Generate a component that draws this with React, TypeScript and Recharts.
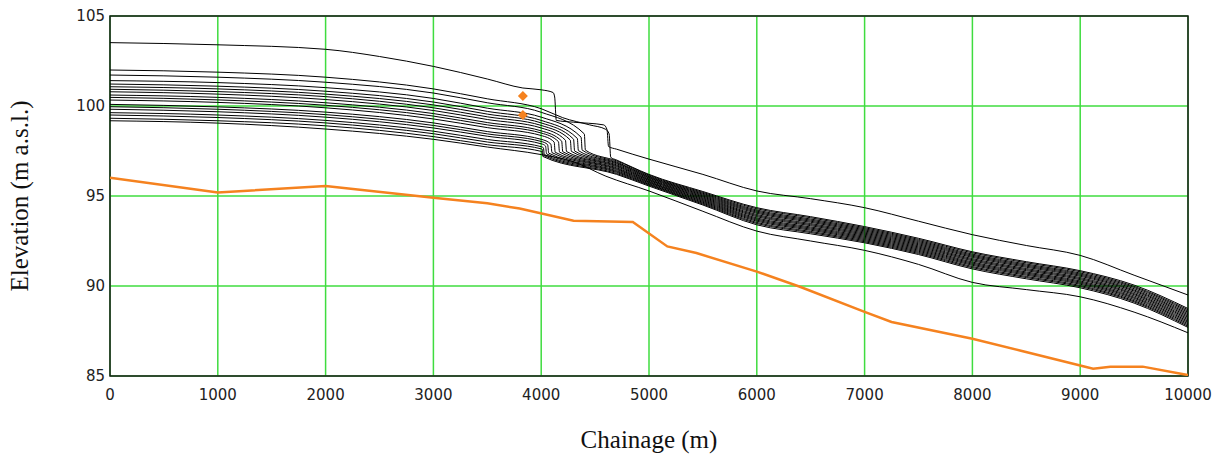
import React from "react";
import {
  ComposedChart,
  Line,
  Scatter,
  XAxis,
  YAxis,
  CartesianGrid,
  ReferenceArea,
  Label,
} from "recharts";

type Pt = [number, number];

const xTicks = [0, 1000, 2000, 3000, 4000, 5000, 6000, 7000, 8000, 9000, 10000];
const yTicks = [85, 90, 95, 100, 105];

// water surface profiles, [chainage, elevation]
const profileTop: Pt[] = [
  [0, 103.52], [1000, 103.4], [2000, 103.15], [2500, 102.75], [3000, 102.2], [3500, 101.5],
  [3830, 101.0], [4000, 100.9], [4110, 100.75], [4125, 100.5], [4140, 99.2], [4300, 99.1],
  [4580, 98.95], [4610, 98.7], [4625, 97.75], [4700, 97.6], [5000, 97.05], [5500, 96.2],
  [6000, 95.28], [6500, 94.85], [7000, 94.35], [7500, 93.6], [8000, 92.85], [8500, 92.25],
  [9000, 91.7], [9500, 90.6], [10000, 89.5],
];
const profile01: Pt[] = [
  [0, 102.0], [1000, 101.88], [2000, 101.6], [3000, 100.95], [3500, 100.4], [4000, 99.85],
  [4200, 99.35], [4450, 98.95], [4600, 98.7], [4630, 98.45], [4645, 97.15], [4700, 97.0],
  [5000, 96.2], [5500, 95.25], [6000, 94.35], [6500, 93.85], [7000, 93.3], [7500, 92.65],
  [8000, 91.9], [8500, 91.35], [9000, 90.85], [9500, 90.05], [10000, 88.75],
];
const profile02: Pt[] = [
  [0, 101.72], [1000, 101.6], [2000, 101.32], [3000, 100.72], [3500, 100.18], [4000, 99.65],
  [4400, 98.45], [4410, 97.55], [4700, 96.95], [5000, 96.16], [5500, 95.2], [6000, 94.29],
  [6500, 93.79], [7000, 93.24], [7500, 92.59], [8000, 91.84], [8500, 91.29], [9000, 90.79],
  [9500, 89.98], [10000, 88.68],
];
const profile03: Pt[] = [
  [0, 101.41], [1000, 101.3], [2000, 101.02], [3000, 100.42], [3500, 99.88], [4000, 99.38],
  [4370, 98.27], [4380, 97.55], [4700, 96.89], [5000, 96.11], [5500, 95.15], [6000, 94.22],
  [6500, 93.72], [7000, 93.18], [7500, 92.53], [8000, 91.77], [8500, 91.22], [9000, 90.72],
  [9500, 89.92], [10000, 88.61],
];
const profile04: Pt[] = [
  [0, 101.22], [1000, 101.1], [2000, 100.82], [3000, 100.22], [3500, 99.7], [4000, 99.2],
  [4335, 98.2], [4345, 97.52], [4700, 96.84], [5000, 96.07], [5500, 95.1], [6000, 94.16],
  [6500, 93.66], [7000, 93.12], [7500, 92.47], [8000, 91.71], [8500, 91.16], [9000, 90.66],
  [9500, 89.85], [10000, 88.54],
];
const profile05: Pt[] = [
  [0, 101.07], [1000, 100.95], [2000, 100.66], [3000, 100.06], [3500, 99.55], [4000, 99.06],
  [4300, 98.16], [4310, 97.5], [4700, 96.79], [5000, 96.03], [5500, 95.05], [6000, 94.1],
  [6500, 93.6], [7000, 93.06], [7500, 92.41], [8000, 91.65], [8500, 91.1], [9000, 90.6],
  [9500, 89.78], [10000, 88.47],
];
const profile06: Pt[] = [
  [0, 100.93], [1000, 100.8], [2000, 100.52], [3000, 99.9], [3500, 99.4], [4000, 98.92],
  [4270, 98.11], [4280, 97.48], [4700, 96.73], [5000, 95.99], [5500, 95.0], [6000, 94.04],
  [6500, 93.54], [7000, 93.0], [7500, 92.35], [8000, 91.59], [8500, 91.04], [9000, 90.54],
  [9500, 89.72], [10000, 88.4],
];
const profile07: Pt[] = [
  [0, 100.79], [1000, 100.66], [2000, 100.36], [3000, 99.75], [3500, 99.25], [4000, 98.78],
  [4225, 98.1], [4235, 97.47], [4700, 96.68], [5000, 95.94], [5500, 94.95], [6000, 93.97],
  [6500, 93.47], [7000, 92.94], [7500, 92.29], [8000, 91.52], [8500, 90.97], [9000, 90.47],
  [9500, 89.65], [10000, 88.33],
];
const profile08: Pt[] = [
  [0, 100.61], [1000, 100.48], [2000, 100.18], [3000, 99.58], [3500, 99.08], [4000, 98.62],
  [4190, 98.05], [4200, 97.46], [4700, 96.63], [5000, 95.9], [5500, 94.9], [6000, 93.91],
  [6500, 93.41], [7000, 92.88], [7500, 92.23], [8000, 91.46], [8500, 90.91], [9000, 90.41],
  [9500, 89.58], [10000, 88.26],
];
const profile09: Pt[] = [
  [0, 100.48], [1000, 100.34], [2000, 100.04], [3000, 99.44], [3500, 98.95], [4000, 98.5],
  [4160, 98.02], [4170, 97.44], [4700, 96.57], [5000, 95.86], [5500, 94.85], [6000, 93.85],
  [6500, 93.35], [7000, 92.82], [7500, 92.17], [8000, 91.4], [8500, 90.85], [9000, 90.35],
  [9500, 89.52], [10000, 88.19],
];
const profile10: Pt[] = [
  [0, 100.33], [1000, 100.2], [2000, 99.9], [3000, 99.28], [3500, 98.8], [4000, 98.36],
  [4120, 98.0], [4130, 97.43], [4700, 96.52], [5000, 95.81], [5500, 94.8], [6000, 93.78],
  [6500, 93.28], [7000, 92.76], [7500, 92.11], [8000, 91.33], [8500, 90.78], [9000, 90.28],
  [9500, 89.45], [10000, 88.12],
];
const profile11: Pt[] = [
  [0, 100.09], [1000, 99.95], [2000, 99.66], [3000, 99.06], [3500, 98.58], [4000, 98.15],
  [4090, 97.88], [4100, 97.41], [4700, 96.47], [5000, 95.77], [5500, 94.75], [6000, 93.72],
  [6500, 93.22], [7000, 92.7], [7500, 92.05], [8000, 91.27], [8500, 90.72], [9000, 90.22],
  [9500, 89.38], [10000, 88.05],
];
const profile12: Pt[] = [
  [0, 99.96], [1000, 99.82], [2000, 99.52], [3000, 98.92], [3500, 98.45], [4000, 98.03],
  [4060, 97.85], [4070, 97.38], [4700, 96.41], [5000, 95.73], [5500, 94.7], [6000, 93.66],
  [6500, 93.16], [7000, 92.64], [7500, 91.99], [8000, 91.21], [8500, 90.66], [9000, 90.16],
  [9500, 89.32], [10000, 87.98],
];
const profile13: Pt[] = [
  [0, 99.82], [1000, 99.68], [2000, 99.38], [3000, 98.78], [3500, 98.32], [4000, 97.9],
  [4040, 97.78], [4050, 97.34], [4700, 96.36], [5000, 95.68], [5500, 94.65], [6000, 93.6],
  [6500, 93.1], [7000, 92.58], [7500, 91.93], [8000, 91.15], [8500, 90.6], [9000, 90.1],
  [9500, 89.25], [10000, 87.91],
];
const profile14: Pt[] = [
  [0, 99.63], [1000, 99.5], [2000, 99.2], [3000, 98.6], [3500, 98.14], [4000, 97.74],
  [4020, 97.68], [4030, 97.3], [4700, 96.31], [5000, 95.64], [5500, 94.6], [6000, 93.53],
  [6500, 93.03], [7000, 92.52], [7500, 91.87], [8000, 91.08], [8500, 90.53], [9000, 90.03],
  [9500, 89.18], [10000, 87.84],
];
const profile15: Pt[] = [
  [0, 99.5], [1000, 99.36], [2000, 99.06], [3000, 98.46], [3500, 98.0], [4000, 97.62],
  [4010, 97.59], [4020, 97.26], [4700, 96.25], [5000, 95.6], [5500, 94.55], [6000, 93.47],
  [6500, 92.97], [7000, 92.46], [7500, 91.81], [8000, 91.02], [8500, 90.47], [9000, 89.97],
  [9500, 89.12], [10000, 87.77],
];
const profile16: Pt[] = [
  [0, 99.32], [1000, 99.18], [2000, 98.9], [3000, 98.3], [3500, 97.85], [4000, 97.48],
  [4005, 97.47], [4015, 97.2], [4700, 96.2], [5000, 95.55], [5500, 94.5], [6000, 93.4],
  [6500, 92.9], [7000, 92.4], [7500, 91.75], [8000, 90.95], [8500, 90.4], [9000, 89.9],
  [9500, 89.05], [10000, 87.7],
];
const profileLow: Pt[] = [
  [0, 99.18], [1000, 99.05], [2000, 98.72], [3000, 98.15], [3500, 97.72], [4000, 97.3],
  [4300, 96.9], [4600, 96.1], [5000, 95.28], [5500, 94.15], [6000, 93.05], [6500, 92.5],
  [7000, 91.98], [7500, 91.2], [8000, 90.2], [8500, 89.8], [9000, 89.4], [9500, 88.55],
  [10000, 87.4],
];

// bed level
const bedLevel: Pt[] = [
  [0, 96.02], [1000, 95.19], [2000, 95.56], [3000, 94.9], [3500, 94.6], [3800, 94.3],
  [4300, 93.62], [4850, 93.55], [5170, 92.2], [5440, 91.83], [6000, 90.8], [6400, 89.96],
  [7000, 88.56], [7250, 88.0], [8000, 87.07], [8450, 86.4], [9000, 85.58], [9120, 85.4],
  [9280, 85.52], [9580, 85.52], [10000, 85.05],
];

// observed levels
const observed: Pt[] = [
  [3830, 100.55],
  [3830, 99.5],
];

const profiles = [
  profileTop, profile01, profile02, profile03, profile04, profile05, profile06, profile07,
  profile08, profile09, profile10, profile11, profile12, profile13, profile14, profile15,
  profile16, profileLow,
];

const rows = (pts: Pt[]) => pts.map(([x, y]) => ({ x, y }));

const ORANGE = "#f5821f";
const GRID = "#3fdc3f";

const Diamond = (props: any) => {
  const { cx, cy } = props;
  const r = 5;
  return (
    <polygon
      points={`${cx},${cy - r} ${cx + r},${cy} ${cx},${cy + r} ${cx - r},${cy}`}
      fill={ORANGE}
    />
  );
};

export default function App() {
  const tick = { fill: "#222", fontSize: 15, fontFamily: "DejaVu Sans" };
  const title = { fill: "#111", fontSize: 25, fontFamily: "Liberation Serif" };

  return (
    <div style={{ position: "absolute", left: 0, top: 0, width: 1226, height: 455, background: "#fff" }}>
      <ComposedChart width={1226} height={455} margin={{ top: 16, right: 38, bottom: 0, left: 0 }}>
        <CartesianGrid stroke={GRID} strokeWidth={1.5} />
        <XAxis
          dataKey="x"
          type="number"
          domain={[0, 10000]}
          ticks={xTicks}
          allowDataOverflow
          axisLine={false}
          tickLine={false}
          tickSize={0}
          tickMargin={13}
          height={79}
          tick={tick}
        >
          <Label value="Chainage (m)" position="insideBottom" offset={7} style={title} />
        </XAxis>
        <YAxis
          type="number"
          domain={[85, 105]}
          ticks={yTicks}
          allowDataOverflow
          axisLine={false}
          tickLine={false}
          tickSize={0}
          tickMargin={5}
          width={110}
          tick={tick}
        >
          <Label
            value="Elevation (m a.s.l.)"
            angle={-90}
            position="insideLeft"
            offset={19}
            style={{ ...title, textAnchor: "middle" }}
          />
        </YAxis>
        {profiles.map((p, i) => (
          <Line
            key={i}
            data={rows(p)}
            dataKey="y"
            type="monotoneX"
            stroke="#000"
            strokeWidth={1}
            dot={false}
            activeDot={false}
            isAnimationActive={false}
          />
        ))}
        <Line
          data={rows(bedLevel)}
          dataKey="y"
          type="linear"
          stroke={ORANGE}
          strokeWidth={2.5}
          dot={false}
          activeDot={false}
          isAnimationActive={false}
        />
        <Scatter data={rows(observed)} dataKey="y" shape={Diamond} isAnimationActive={false} />
        <ReferenceArea x1={0} x2={10000} y1={85} y2={105} fill="none" stroke="#1a1a1a" strokeWidth={1.5} />
      </ComposedChart>
    </div>
  );
}
